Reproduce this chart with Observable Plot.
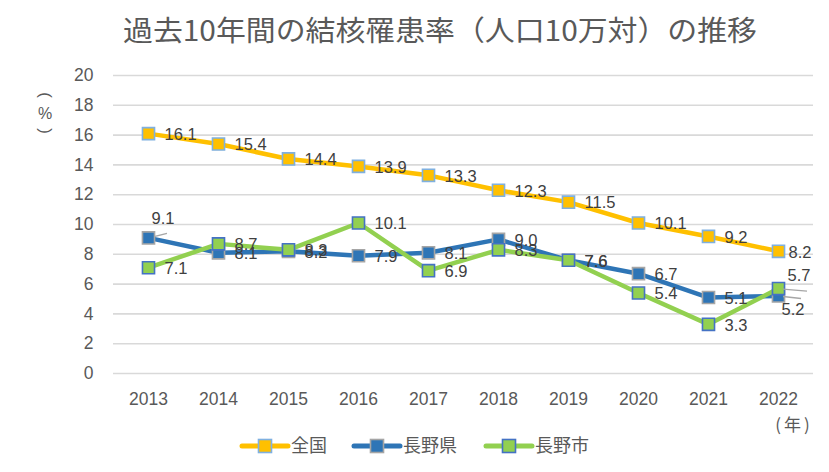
<!DOCTYPE html>
<html><head><meta charset="utf-8">
<script src="https://cdn.jsdelivr.net/npm/d3@7"></script>
<script src="https://cdn.jsdelivr.net/npm/@observablehq/plot@0.6"></script>
<style>
html,body{margin:0;padding:0;background:#fff;}
</style></head>
<body><div id="chart"></div>
<script>
const years = [2013,2014,2015,2016,2017,2018,2019,2020,2021,2022];
const seriesNames = ["全国","長野県","長野市"];
const zenkoku = [16.1,15.4,14.4,13.9,13.3,12.3,11.5,10.1,9.2,8.2];
const naganoKen = [9.1,8.1,8.2,7.9,8.1,9.0,7.6,6.7,5.1,5.2];
const naganoShi = [7.1,8.7,8.3,10.1,6.9,8.3,7.6,5.4,3.3,5.7];
const yTicks = [0,2,4,6,8,10,12,14,16,18,20];
const titleText = "過去10年間の結核罹患率（人口10万対）の推移";

const lineColors = ["#FFC000","#2E75B6","#92D050"];
const markerStroke = ["#7FB0E0","#A5A5A5","#4472C4"];
const valuesBySeries = [zenkoku, naganoKen, naganoShi];

const rows = [];
seriesNames.forEach((s,i)=>years.forEach((y,j)=>rows.push({series:s, si:i, year:String(y), yi:j, value:valuesBySeries[i][j]})));

// label placement tweaks (pixels)
function labelDx(d){
  if (d.si===0 && d.yi===9) return 10;
  if (d.si===1 && d.yi===0) return 3;
  if (d.si===1 && d.yi===9) return 3;
  if (d.si===2 && d.yi===9) return 9;
  return 16;
}
function labelDy(d){
  if (d.si===1 && d.yi===0) return -19;
  if (d.si===1 && d.yi===9) return 14;
  if (d.si===2 && d.yi===9) return -13;
  return 1;
}

const numFont = "'Liberation Sans','Noto Sans CJK JP',sans-serif";
const cjkFont = "'Noto Sans CJK JP',sans-serif";

const marks = [
  Plot.gridY(yTicks, {stroke:"#D9D9D9", strokeOpacity:1, strokeWidth:1.6}),
];
seriesNames.forEach((s,i)=>{
  const d = rows.filter(r=>r.si===i);
  marks.push(Plot.line(d, {x:"year", y:"value", stroke:lineColors[i], strokeWidth:4.5, strokeLinejoin:"round"}));
  marks.push(Plot.dot(d, {x:"year", y:"value", symbol:"square", r:6.8, fill:lineColors[i], stroke:markerStroke[i], strokeWidth:1.6}));
});
seriesNames.forEach((s,i)=>{
  const d = rows.filter(r=>r.si===i);
  d.forEach(r=>{
    marks.push(Plot.text([r], {x:"year", y:"value", text:v=>v.value.toFixed(1), textAnchor:"start", lineAnchor:"middle", dx:labelDx(r), dy:labelDy(r), fill:"#404040", fontSize:16.5, fontFamily:numFont}));
  });
});

const plot = Plot.plot({
  width:829, height:472,
  marginLeft:113, marginRight:16, marginTop:75, marginBottom:99,
  style:{fontFamily:numFont, background:"#fff", color:"#595959"},
  x:{type:"point", domain:years.map(String), padding:0.5, label:null},
  y:{domain:[0,20], label:null},
  marks:[
    ...marks,
    Plot.axisX({tickSize:0, tickPadding:19, fontSize:17.5, fill:"#595959", label:null, fontFamily:numFont}),
    Plot.axisY(yTicks, {tickSize:0, tickPadding:20, fontSize:17.5, fill:"#595959", label:null, fontFamily:numFont})
  ]
});
document.getElementById("chart").appendChild(plot);

const svg = d3.select(plot);
const xs = plot.scale("x"), ys = plot.scale("y");

// leader lines
const leaders = [
  {si:1, yi:0, dx1:7, dy1:-1, dx2:19, dy2:-4},
  {si:1, yi:9, dx1:5, dy1:1, dx2:23, dy2:3},
  {si:2, yi:9, dx1:5, dy1:1, dx2:29, dy2:3}
];
leaders.forEach(l=>{
  const px = xs.apply(String(years[l.yi])), py = ys.apply(valuesBySeries[l.si][l.yi]);
  svg.append("line").attr("x1",px+l.dx1).attr("y1",py+l.dy1).attr("x2",px+l.dx2).attr("y2",py+l.dy2)
    .attr("stroke","#A6A6A6").attr("stroke-width",1.3);
});

// title
svg.append("text").attr("x",440).attr("y",41).attr("text-anchor","middle")
  .attr("font-family",cjkFont).attr("font-size",28).attr("fill","#595959")
  .attr("textLength",634).attr("lengthAdjust","spacingAndGlyphs").text(titleText);

// y unit label (vertical: rotated parentheses, upright %)
const yl = svg.append("g").attr("fill","#595959").attr("text-anchor","middle").attr("dominant-baseline","central");
yl.append("text").attr("transform","translate(45,95) rotate(90)").attr("font-family",numFont).attr("font-size",17).text("(");
yl.append("text").attr("x",45).attr("y",113).attr("font-family",numFont).attr("font-size",16).text("%");
yl.append("text").attr("transform","translate(45,131) rotate(90)").attr("font-family",numFont).attr("font-size",17).text(")");

// x unit label
svg.append("text").attr("x",794).attr("y",431).attr("text-anchor","middle")
  .attr("font-family",cjkFont).attr("font-size",17).attr("fill","#595959")
  .attr("letter-spacing","3px").text("(年)");

// legend
const legendX = [240, 352, 484];
const lg = svg.append("g").attr("text-anchor","start");
seriesNames.forEach((s,i)=>{
  const x0 = legendX[i], yy = 446;
  lg.append("line").attr("x1",x0+2).attr("x2",x0+48).attr("y1",yy).attr("y2",yy)
    .attr("stroke",lineColors[i]).attr("stroke-width",5).attr("stroke-linecap","round");
  lg.append("rect").attr("x",x0+25-6.5).attr("y",yy-6.5).attr("width",13).attr("height",13)
    .attr("fill",lineColors[i]).attr("stroke",markerStroke[i]).attr("stroke-width",1.6);
  lg.append("text").attr("x",x0+51).attr("y",yy).attr("dy","0.35em").attr("text-anchor","start")
    .attr("font-family",cjkFont).attr("font-size",18).attr("fill","#595959").text(s);
});
</script>
</body></html>
